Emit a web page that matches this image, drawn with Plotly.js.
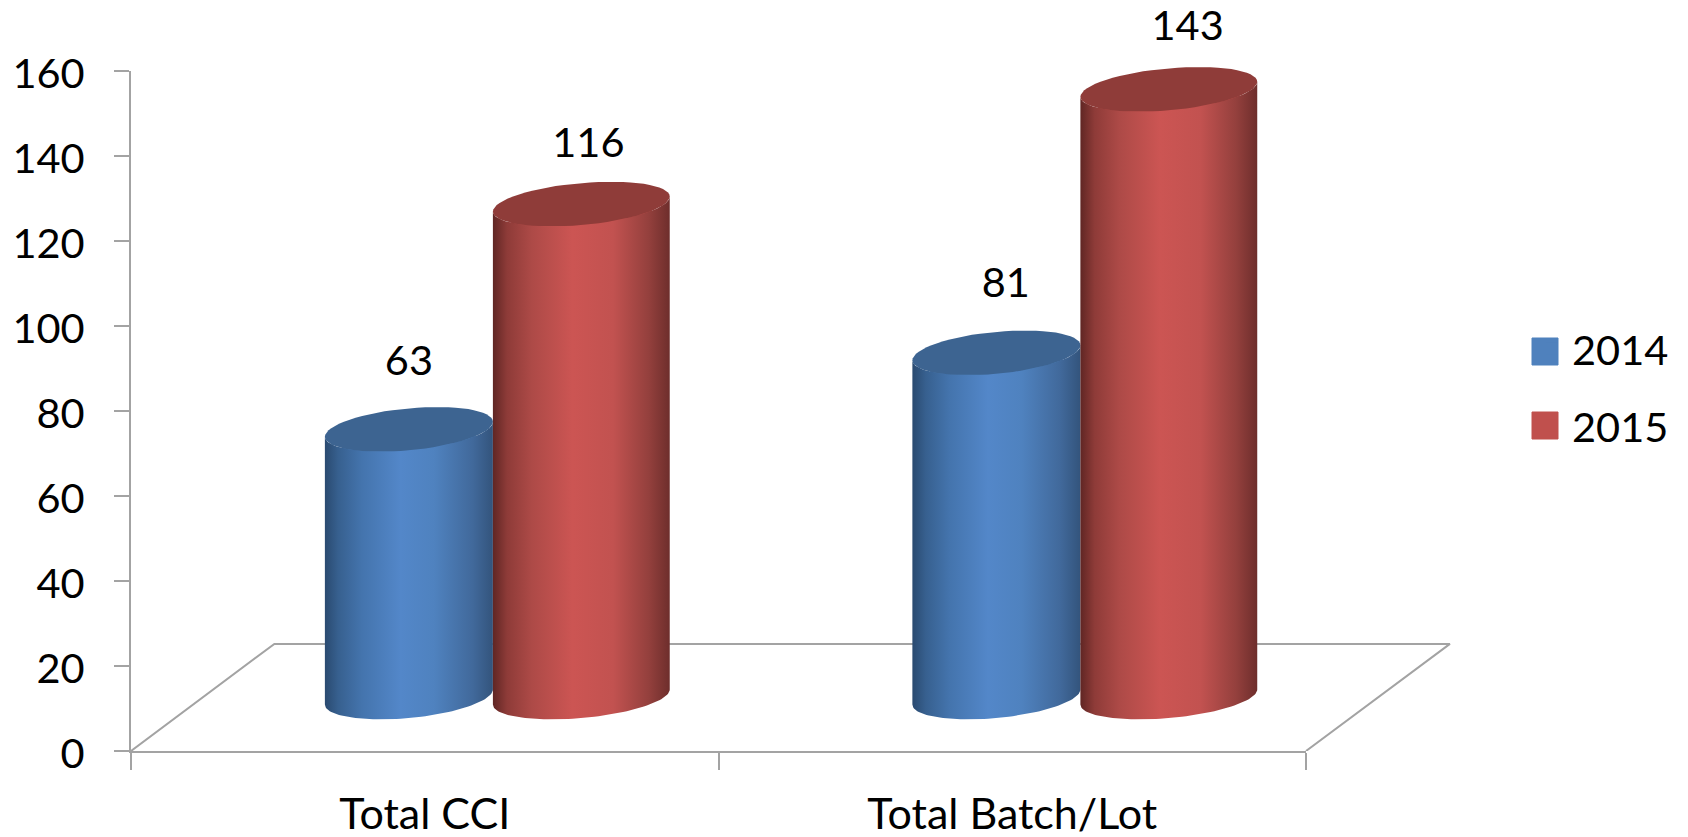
<!DOCTYPE html>
<html>
<head>
<meta charset="utf-8">
<script src="https://cdn.plot.ly/plotly-3.0.1.min.js"></script>
<style>html,body{margin:0;padding:0;background:#fff}#chart{width:1688px;height:837px}</style>
</head>
<body>
<div id="chart"></div>
<script>
var categories = ['Total CCI', 'Total Batch/Lot'];
var values2014 = [63, 81];
var values2015 = [116, 143];
var seriesNames = ['2014', '2015'];
var yTicks = [0, 20, 40, 60, 80, 100, 120, 140, 160];

var W = 1688, H = 837;
var L = 131, R = 1306, T = 71, B = 751;
var pxX = (R - L) / 2, pxY = (B - T) / 160;

var lift = 12.7;
var barOffset = [-0.170, 0.116];
var barWidth = [0.286, 0.301];
var labelShift = [[0, 0.012], [0.016, 0.032]];
var labelRise = [[15.3, 13.6], [15.5, 14.0]];

var blueGrad = [[0,'#2a4a70'],[0.08,'#37608f'],[0.22,'#4474ad'],[0.45,'#5387c9'],[0.65,'#4f82bf'],[0.88,'#41699b'],[1,'#33547c']];
var redGrad = [[0,'#602624'],[0.08,'#8e3b38'],[0.22,'#ad4a47'],[0.45,'#cc5553'],[0.68,'#c25250'],[0.88,'#94403d'],[1,'#6e2e2c']];
var blueTop = '#3d6491', redTop = '#8f3c39';

function ellipsePt(cx, cy, a, s, b, t) {
  return [cx + a * Math.cos(t) / pxX, cy + (s * Math.cos(t) + b * Math.sin(t)) / pxY];
}
function arc(cx, cy, a, s, b, t0, t1) {
  var xs = [], ys = [], n = 64;
  for (var i = 0; i <= n; i++) {
    var p = ellipsePt(cx, cy, a, s, b, t0 + (t1 - t0) * i / n);
    xs.push(p[0]); ys.push(p[1]);
  }
  return [xs, ys];
}
function cylinder(cat, serie, value, grad, topColor) {
  var left = cat + barOffset[serie], w = barWidth[serie], cx = left + w / 2;
  var a = w * pxX / 2, s = 7.5, b = 21;
  var low = arc(cx, lift, a, s, b, Math.PI, 2 * Math.PI);
  var up = arc(cx, lift + value, a, s, b, 2 * Math.PI, Math.PI);
  var top = arc(cx, lift + value, a, s, b, 0, 2 * Math.PI);
  return [
    {type:'scatter', mode:'lines', xaxis:'x2', yaxis:'y2', showlegend:false, hoverinfo:'skip',
     x: low[0].concat(up[0]), y: low[1].concat(up[1]), fill:'toself', line:{width:0, color:'rgba(0,0,0,0)'},
     fillgradient:{type:'horizontal', colorscale:grad}},
    {type:'scatter', mode:'lines', xaxis:'x2', yaxis:'y2', showlegend:false, hoverinfo:'skip',
     x: top[0], y: top[1], fill:'toself', fillcolor:topColor, line:{width:0, color:topColor}}
  ];
}

var inset = 0.03;
var traces = [
  {type:'bar', name:seriesNames[0], x:categories, y:values2014, base:[lift, lift], width:[barWidth[0]-2*inset, barWidth[0]-2*inset],
   offset:[barOffset[0]+inset, barOffset[0]+inset], marker:{color:'#4f81bd'}, legendgroup:'a', hoverinfo:'y'},
  {type:'bar', name:seriesNames[1], x:categories, y:values2015, base:[lift, lift], width:[barWidth[1]-2*inset, barWidth[1]-2*inset],
   offset:[barOffset[1]+inset, barOffset[1]+inset], marker:{color:'#c0504d'}, legendgroup:'b', hoverinfo:'y'},
  {type:'scatter', mode:'lines', xaxis:'x2', yaxis:'y2', showlegend:false, hoverinfo:'skip',
   x:[-0.5, -0.256, 1.745, 1.5], y:[0, 25.2, 25.2, 0], line:{color:'#a3a3a3', width:2}}
];
categories.forEach(function (c, i) {
  traces = traces.concat(cylinder(i, 0, values2014[i], blueGrad, blueTop));
  traces = traces.concat(cylinder(i, 1, values2015[i], redGrad, redTop));
});
var lx = [], ly = [], lt = [];
categories.forEach(function (c, i) {
  [values2014, values2015].forEach(function (vals, k) {
    lx.push(i + barOffset[k] + barWidth[k] / 2 + labelShift[i][k]);
    ly.push(vals[i] + lift + labelRise[i][k]);
    lt.push(String(vals[i]));
  });
});
traces.push({type:'scatter', mode:'text', xaxis:'x2', yaxis:'y2', showlegend:false, hoverinfo:'skip',
  x:lx, y:ly, text:lt, textposition:'middle center', textfont:{family:'Lato', size:41.5, color:'#000'}});

function px2x(px) { return (px - L) / (W - L); }
function px2y(py) { return (B - py) / B; }
function swatch(y0, y1, color) {
  return {type:'rect', xref:'paper', yref:'paper', layer:'above',
    x0:px2x(1532), x1:px2x(1558), y0:px2y(y1), y1:px2y(y0),
    fillcolor:color, line:{color:color, width:1}};
}

var layout = {
  width:W, height:H, paper_bgcolor:'#fff', plot_bgcolor:'rgba(0,0,0,0)', barmode:'overlay',
  margin:{l:L, r:0, t:0, b:H - B, pad:0},
  font:{family:'Lato', size:41.5, color:'#000'},
  xaxis:{type:'category', domain:[0, (R - L) / (W - L)], categories:categories, categoryorder:'array', categoryarray:categories, range:[-0.5, 1.5],
    tickson:'boundaries', ticks:'outside', ticklen:17, tickcolor:'#a3a3a3', tickwidth:2, showgrid:false, zeroline:false,
    showline:true, linecolor:'#a3a3a3', linewidth:2, ticklabelstandoff:24, tickfont:{family:'Lato', size:43, color:'#000'}},
  yaxis:{domain:[0, (B - T) / B], range:[0, 160], tickmode:'array', tickvals:yTicks, ticktext:yTicks.map(String), ticks:'outside', ticklen:15,
    tickcolor:'#a3a3a3', tickwidth:2, showgrid:false, zeroline:false, showline:true, linecolor:'#a3a3a3', linewidth:2,
    ticklabelstandoff:21, ticklabelshift:2, tickfont:{family:'Lato', size:41.5, color:'#000'}},
  xaxis2:{domain:[0, 1], anchor:'y2', range:[-0.5, -0.5 + (W - L) / pxX], visible:false, showgrid:false, zeroline:false},
  yaxis2:{domain:[0, 1], anchor:'x2', range:[0, B / pxY], visible:false, showgrid:false, zeroline:false},
  legend:{x:px2x(1532), xanchor:'left', y:px2y(315), yanchor:'top', font:{family:'Lato', size:41.5, color:'#000'},
    tracegroupgap:20, bgcolor:'rgba(0,0,0,0)', borderwidth:0},
  shapes:[swatch(338, 365, '#4f81bd'), swatch(412, 439, '#c0504d')],
  showlegend:true
};
Plotly.newPlot('chart', traces, layout, {displayModeBar:false, responsive:false});
</script>
</body>
</html>
